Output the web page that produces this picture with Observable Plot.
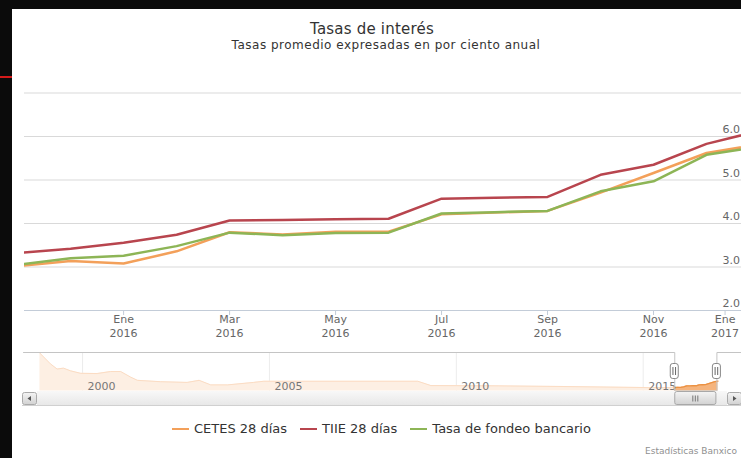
<!DOCTYPE html>
<html><head><meta charset="utf-8">
<script src="https://cdn.jsdelivr.net/npm/d3@7"></script>
<script src="https://cdn.jsdelivr.net/npm/@observablehq/plot@0.6"></script>
<style>
html,body{margin:0;padding:0;width:741px;height:458px;overflow:hidden;background:#0b0b0b;font-family:"DejaVu Sans",sans-serif;}
#panel{position:absolute;left:12px;top:9px;width:729px;height:449px;background:#fff;}
#redmark{position:absolute;left:0;top:76px;width:12px;height:2px;background:#d41a1a;}
.abs{position:absolute;white-space:nowrap;}
#title{left:0;width:744px;top:20px;text-align:center;font-size:15px;line-height:19px;color:#333;letter-spacing:0.2px;}
#subtitle{left:0;width:772px;top:38px;text-align:center;font-size:12px;line-height:14px;color:#333;letter-spacing:0.5px;}
#legend{left:172px;top:420px;display:flex;gap:13px;font-size:13px;line-height:17px;color:#333;}
#legend .item{display:flex;align-items:center;}
#legend .sym{display:inline-block;width:17px;height:2px;margin-right:5px;}
#credit{left:645px;top:445px;font-size:9px;line-height:12px;color:#909090;}
</style></head>
<body>
<div id="panel"></div>
<div id="redmark"></div>
<div id="title" class="abs">Tasas de interés</div>
<div id="subtitle" class="abs">Tasas promedio expresadas en por ciento anual</div>
<div id="legend" class="abs"></div>
<div id="credit" class="abs">Estadísticas Banxico</div>
<script>
// ---- data ----
const months = ["Nov 2015","Dic 2015","Ene 2016","Feb 2016","Mar 2016","Abr 2016","May 2016","Jun 2016","Jul 2016","Ago 2016","Sep 2016","Oct 2016","Nov 2016","Dic 2016","Ene 2017"];
const cetes  = [3.02,3.14,3.08,3.36,3.80,3.75,3.81,3.81,4.21,4.25,4.29,4.71,5.16,5.62,5.82];
const tiie   = [3.32,3.42,3.56,3.74,4.07,4.08,4.10,4.11,4.57,4.59,4.61,5.12,5.35,5.83,6.13];
const fondeo = [3.05,3.20,3.26,3.48,3.79,3.73,3.78,3.79,4.23,4.26,4.29,4.74,4.97,5.58,5.77];
const seriesNames  = ["CETES 28 días","TIIE 28 días","Tasa de fondeo bancario"];
const seriesColors = ["#f3a05a","#b8454e","#8db556"];
const xTickPos    = [2,4,6,8,10,12,13.35];
const xTickLabels = ["Ene\n2016","Mar\n2016","May\n2016","Jul\n2016","Sep\n2016","Nov\n2016","Ene\n2017"];
const yGridTicks  = [3,4,5,6,7];
const yLabelTicks = [2,3,4,5,6];
const visibleRange = [0.13, 13.66];          // selected range, in month index from Nov 2015
const firstMonth = 2015 + 10/12;             // Nov 2015 as decimal year
// navigator history (decimal year, CETES-like level)
const navYears  = [1998.86,1999.14,1999.32,1999.49,1999.68,1999.95,2000.39,2000.75,2001.02,2001.29,2001.47,2002.09,2002.80,2003.12,2003.43,2003.88,2004.58,2004.85,2005.38,2008.97,2009.32,2010.93,2012.80,2015.13];
const navValues = [18.2,13.5,11.2,11.6,10.4,9.3,9.2,10.1,10.1,7.6,6.2,5.6,5.3,6.2,4.2,4.2,5.3,5.8,5.8,5.8,3.9,3.8,3.5,3.0];
const navYearTicks = [2000,2005,2010,2015];
const navRange   = [1998.42, 2017.63];
const navYDomain = [1.5, 18.5];

// ---- main chart ----
const seriesValues = [cetes, tiie, fondeo];
const rows = [];
seriesNames.forEach((s,k) => seriesValues[k].forEach((v,i) => rows.push({series:s, idx:i, month:months[i], value:v})));
const tickLabel = new Map(xTickPos.map((p,i) => [p, xTickLabels[i]]));

const main = Plot.plot({
  width: 741, height: 345,
  marginLeft: 24, marginRight: 0, marginTop: 92.5, marginBottom: 35,
  style: {position:"absolute", left:"0px", top:"0px", background:"transparent", overflow:"visible", fontFamily:"DejaVu Sans"},
  x: {domain: visibleRange, axis: null, label: null},
  y: {domain: [2,7], axis: null, label: null},
  color: {domain: seriesNames, range: seriesColors},
  marks: [
    Plot.gridY(yGridTicks, {stroke:"#d9d9d9", strokeOpacity:1}),
    Plot.ruleY([2], {stroke:"#c3ccd8"}),
    Plot.axisX(xTickPos, {tickSize:5, stroke:"#c3ccd8", tickFormat: () => "", label: null}),
    Plot.axisX(xTickPos, {tickSize:0, tickPadding:3, tickFormat: d => tickLabel.get(d), fill:"#666", fontSize:11, lineHeight:1.27, label: null}),
    Plot.line(rows, {x:"idx", y:"value", z:"series", stroke:"series", strokeWidth:2.5, clip:true}),
    Plot.text(yLabelTicks, {y: d => d, text: d => d.toFixed(1), frameAnchor:"right", textAnchor:"start", dx:-19, dy:-7, fill:"#666", fontSize:11})
  ]
});
document.body.appendChild(main);

// ---- navigator ----
const navRows = navYears.map((t,i) => ({t, v:navValues[i]}))
  .concat(cetes.map((v,i) => ({t: firstMonth + i/12, v})));
const selFrom = firstMonth + visibleRange[0]/12;
const selTo   = firstMonth + visibleRange[1]/12;
const selRows = navRows.filter(d => d.t >= firstMonth);
const outline = [
  {t:navRange[0], v:navYDomain[1]}, {t:selFrom, v:navYDomain[1]}, {t:selFrom, v:navYDomain[0]},
  {t:selTo, v:navYDomain[0]}, {t:selTo, v:navYDomain[1]}, {t:navRange[1], v:navYDomain[1]}
];
const nav = Plot.plot({
  width: 741, height: 70,
  marginLeft: 23, marginRight: 0, marginTop: 12, marginBottom: 19.5,
  style: {position:"absolute", left:"0px", top:"340px", background:"transparent", overflow:"visible", fontFamily:"DejaVu Sans"},
  x: {domain: navRange, axis: null, label: null},
  y: {domain: navYDomain, axis: null, label: null},
  marks: [
    Plot.ruleX(navYearTicks, {stroke:"#ececec"}),
    Plot.area(navRows, {x1:"t", y1: () => navYDomain[0], y2:"v", fill:"#fdefe3"}),
    Plot.line(navRows, {x:"t", y:"v", stroke:"#fbdcc3", strokeWidth:1}),
    Plot.area(selRows, {x1:"t", y1: () => navYDomain[0], y2:"v", fill:"#f5b47d"}),
    Plot.line(selRows, {x:"t", y:"v", stroke:"#eb9142", strokeWidth:1.3}),
    Plot.text(navYearTicks, {x: d => d, frameAnchor:"bottom", textAnchor:"start", lineAnchor:"bottom", dx:5, dy:-1, text: d => String(d), fill:"#777", fontSize:11}),
    Plot.line(outline, {x:"t", y:"v", stroke:"#c4c4c4", strokeWidth:1})
  ]
});
document.body.appendChild(nav);

// scrollbar + handles positioned with the navigator's x scale
const nx = nav.scale("x");
const p0 = nx.apply(selFrom), p1 = nx.apply(selTo);
const svg = d3.select(nav);
const defs = svg.append("defs");
const g1 = defs.append("linearGradient").attr("id","trk").attr("x1",0).attr("x2",0).attr("y1",0).attr("y2",1);
g1.append("stop").attr("offset","0").attr("stop-color","#f8f8f8");
g1.append("stop").attr("offset","1").attr("stop-color","#e8e8e8");
const g2 = defs.append("linearGradient").attr("id","thm").attr("x1",0).attr("x2",0).attr("y1",0).attr("y2",1);
g2.append("stop").attr("offset","0").attr("stop-color","#f4f4f4");
g2.append("stop").attr("offset","1").attr("stop-color","#d2d2d2");
const sb = svg.append("g");
sb.append("rect").attr("x",37).attr("y",51).attr("width",690).attr("height",14).attr("fill","url(#trk)");
sb.append("line").attr("x1",22).attr("x2",741).attr("y1",65.5).attr("y2",65.5).attr("stroke","#d0d0d0");
// buttons
sb.append("rect").attr("x",22.5).attr("y",52.5).attr("width",14).attr("height",12).attr("rx",2).attr("fill","url(#thm)").attr("stroke","#aaa");
sb.append("path").attr("d","M31,56 L27.5,58.5 L31,61 Z").attr("fill","#555");
sb.append("rect").attr("x",727.5).attr("y",52.5).attr("width",14).attr("height",12).attr("rx",2).attr("fill","url(#thm)").attr("stroke","#aaa");
sb.append("path").attr("d","M733,56 L736.5,58.5 L733,61 Z").attr("fill","#555");
// thumb
sb.append("rect").attr("x",p0+0.5).attr("y",51.5).attr("width",p1-p0-1).attr("height",13).attr("rx",2).attr("fill","url(#thm)").attr("stroke","#a8a8a8");
const cx = (p0+p1)/2;
[-2.5,0,2.5].forEach(o => sb.append("line").attr("x1",cx+o).attr("x2",cx+o).attr("y1",55.5).attr("y2",61.5).attr("stroke","#777"));
// handles
[p0,p1].forEach(p => {
  sb.append("rect").attr("x",p-4).attr("y",23.5).attr("width",8).attr("height",15).attr("rx",2.5).attr("fill","#fff").attr("stroke","#888");
  [-1.3,1.3].forEach(o => sb.append("line").attr("x1",p+o).attr("x2",p+o).attr("y1",27).attr("y2",35).attr("stroke","#666"));
});

// ---- legend ----
const legend = d3.select("#legend");
seriesNames.forEach((s,k) => {
  const it = legend.append("div").attr("class","item");
  it.append("span").attr("class","sym").style("background", seriesColors[k]);
  it.append("span").text(s);
});
</script>
</body></html>
